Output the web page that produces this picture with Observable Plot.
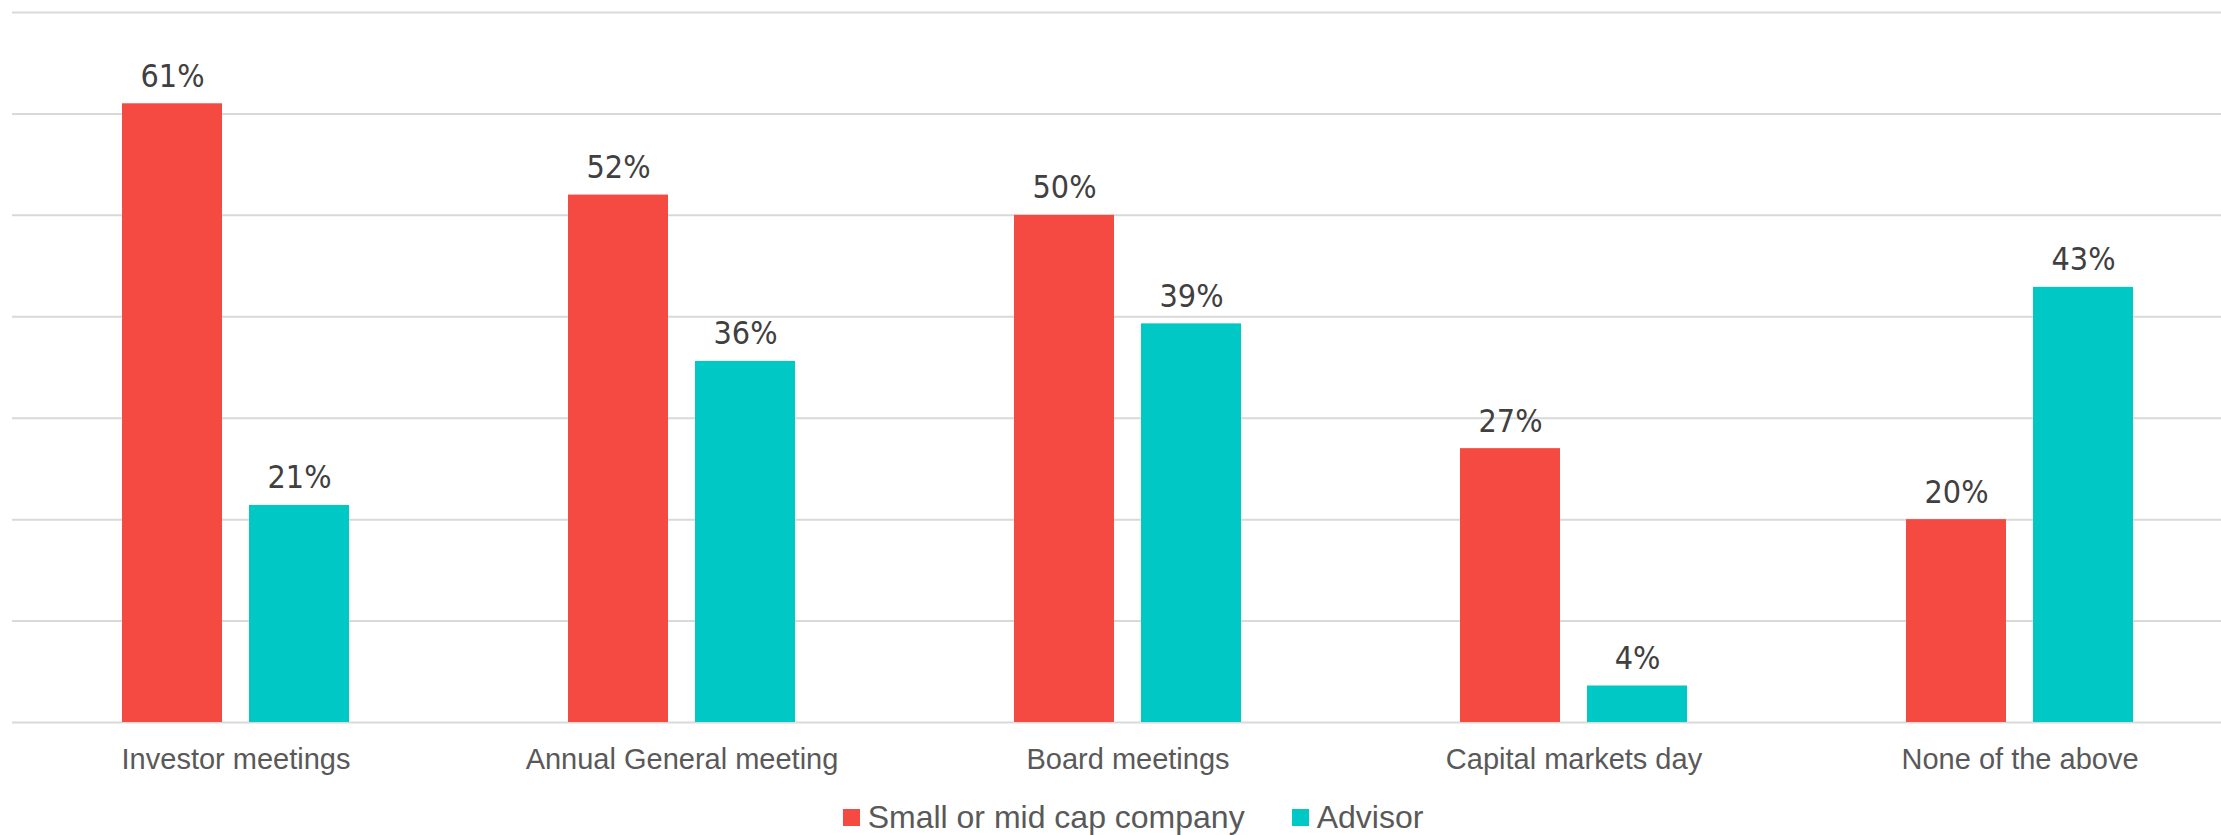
<!DOCTYPE html>
<html><head><meta charset="utf-8">
<script src="https://cdn.jsdelivr.net/npm/d3@7"></script>
<script src="https://cdn.jsdelivr.net/npm/@observablehq/plot@0.6"></script>
<style>
body{margin:0;background:#fff;width:2221px;height:835px;overflow:hidden;position:relative;}
#grid,#chart{position:absolute;top:0;left:0;}
#legend{position:absolute;top:801px;left:0;width:2221px;display:flex;justify-content:center;gap:47px;padding-left:45px;box-sizing:border-box;font-family:"Liberation Sans",Arial,sans-serif;font-size:32px;line-height:32px;color:#595959;}
.item{display:flex;align-items:center;white-space:nowrap;}
.sw{width:17px;height:17px;margin-right:8px;display:inline-block;}
</style></head><body>
<div id="grid"></div><div id="chart"></div><div id="legend"></div>
<script>
const categories = ["Investor meetings","Annual General meeting","Board meetings","Capital markets day","None of the above"];
const seriesNames = ["Small or mid cap company","Advisor"];
const smallMidCap = [61,52,50,27,20];
const advisor = [21.4,35.6,39.3,3.6,42.9];
const seriesColors = ["#F44A41","#00C8C4"];
const yTicks = [0,10,20,30,40,50,60,70];

const data = categories.flatMap((c,i)=>[
  {category:c, series:seriesNames[0], value:smallMidCap[i]},
  {category:c, series:seriesNames[1], value:advisor[i]}
]);

const common = {width:2221, height:790, marginTop:12, marginBottom:68, marginLeft:12, marginRight:0};

const grid = Plot.plot({
  ...common,
  style:{background:"transparent"},
  y:{domain:[0,70], axis:null},
  marks:[Plot.ruleY(yTicks,{stroke:"#d9d9d9", strokeWidth:2})]
});
document.getElementById("grid").appendChild(grid);

const chart = Plot.plot({
  ...common,
  style:{background:"transparent", fontFamily:"'Liberation Sans', Arial, sans-serif", color:"#595959"},
  fx:{domain:categories, range:[12.5,2242.5], paddingInner:0.491, paddingOuter:0.2455, label:null},
  x:{domain:seriesNames, paddingInner:0.2126, paddingOuter:0, axis:null},
  y:{domain:[0,70], axis:null},
  color:{domain:seriesNames, range:seriesColors},
  marks:[
    Plot.barY(data,{fx:"category", x:"series", y:"value", fill:"series"}),
    Plot.text(data,{fx:"category", x:"series", y:"value", text:d=>Math.round(d.value)+"%", lineAnchor:"bottom", dy:-17, fontSize:32, fill:"#404040", fontFamily:"'Liberation Sans Narrow', 'DejaVu Sans Condensed', sans-serif"}),
    Plot.axisFx({anchor:"bottom", tickSize:0, tickPadding:26, fontSize:29, fill:"#595959", label:null})
  ]
});
document.getElementById("chart").appendChild(chart);

const legend = document.getElementById("legend");
seriesNames.forEach((s,i)=>{
  const item = document.createElement("div"); item.className="item";
  const sw = document.createElement("span"); sw.className="sw"; sw.style.background=seriesColors[i];
  const t = document.createElement("span"); t.textContent=s;
  item.appendChild(sw); item.appendChild(t); legend.appendChild(item);
});
</script>
</body></html>
